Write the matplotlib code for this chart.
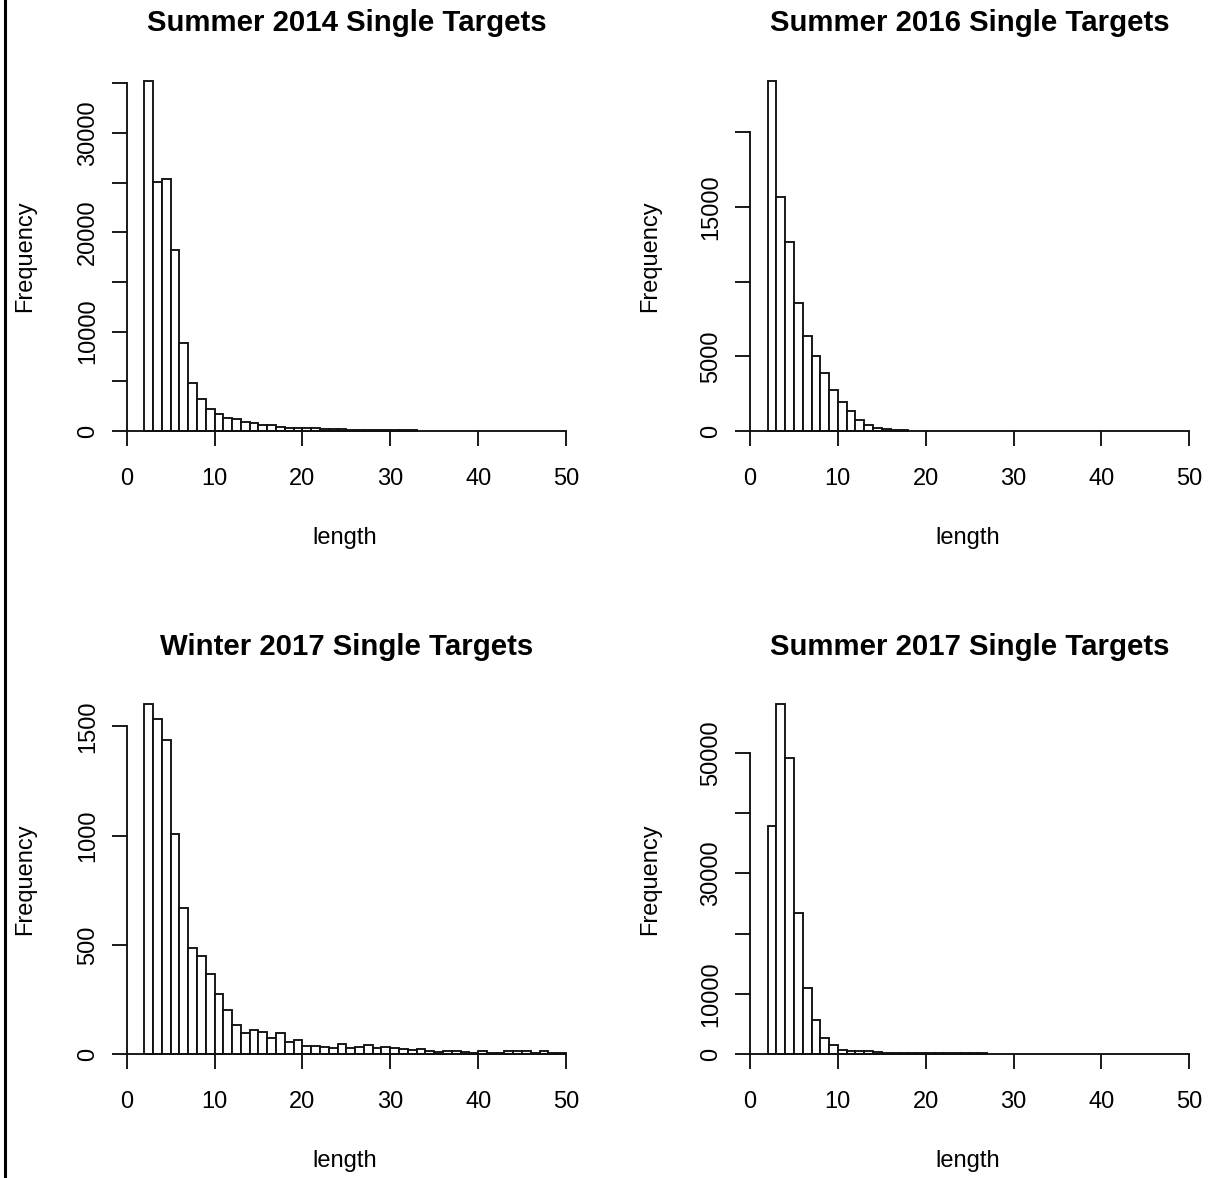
import matplotlib
matplotlib.use("Agg")
import matplotlib.pyplot as plt
from matplotlib.lines import Line2D

plt.rcParams['font.family'] = ['Liberation Sans', 'DejaVu Sans']

# ---------------- data ----------------
titles = ["Summer 2014 Single Targets", "Summer 2016 Single Targets",
          "Winter 2017 Single Targets", "Summer 2017 Single Targets"]

# counts per unit-width bin, first bin starts at length 2
s2014_counts = [35230, 25100, 25400, 18200, 8900, 4800, 3200, 2200, 1700, 1340,
                1170, 940, 770, 570, 560, 430, 330, 320, 310, 300,
                180, 170, 160, 150, 140, 130, 120, 110, 100, 90, 80]
s2016_counts = [23440, 15660, 12660, 8570, 6330, 4990, 3870, 2750, 1970, 1340,
                740, 430, 230, 120, 80, 60]
w2017_counts = [1603, 1535, 1436, 1009, 668, 485, 450, 366, 277, 200,
                135, 95, 109, 101, 72, 94, 55, 65, 37, 37,
                33, 27, 48, 27, 30, 40, 28, 30, 28, 23,
                17, 23, 15, 8, 15, 15, 8, 6, 15, 6,
                6, 13, 13, 13, 6, 15, 6, 6]
s2017_counts = [37900, 58140, 49100, 23500, 10900, 5650, 2660, 1500, 720, 550,
                440, 440, 250, 230, 210, 200, 190, 180, 170, 160,
                150, 140, 130, 120, 110]
first_bin = 2

x_ticks = [0, 10, 20, 30, 40, 50]
y_ticks = [[0, 5000, 10000, 15000, 20000, 25000, 30000, 35000],
           [0, 5000, 10000, 15000, 20000],
           [0, 500, 1000, 1500],
           [0, 10000, 20000, 30000, 40000, 50000]]
y_ticklabels = [["0", "", "10000", "", "20000", "", "30000", ""],
                ["0", "5000", "", "15000", ""],
                ["0", "500", "1000", "1500"],
                ["0", "10000", "", "30000", "", "50000"]]
all_counts = [s2014_counts, s2016_counts, w2017_counts, s2017_counts]

# ---------------- layout ----------------
W, H = 1208, 1178
fig = plt.figure(figsize=(W / 100, H / 100), dpi=100)

col_x0 = [126.7, 750.0]
col_w = 439.3
row_top = [81.0, 704.0]
row_bot = [431.0, 1054.0]

lw = 1.35
fs = 17
for i in range(4):
    r, c = divmod(i, 2)
    left = col_x0[c] / W
    bottom = 1 - row_bot[r] / H
    height = (row_bot[r] - row_top[r]) / H
    ax = fig.add_axes([left, bottom, col_w / W, height])
    counts = all_counts[i]
    edges = [first_bin + k for k in range(len(counts))]
    ax.bar(edges, counts, width=1, align='edge', facecolor='white',
           edgecolor='#111111', linewidth=lw, clip_on=False)
    ax.set_xlim(0, 50)
    ax.set_ylim(0, max(counts))
    for s in ['top', 'right']:
        ax.spines[s].set_visible(False)
    ax.spines['left'].set_bounds(y_ticks[i][0], y_ticks[i][-1])
    ax.spines['bottom'].set_bounds(0, 50)
    ax.spines['left'].set_linewidth(lw)
    ax.spines['bottom'].set_linewidth(lw)
    ax.spines['left'].set_color('#111111')
    ax.spines['bottom'].set_color('#111111')
    ax.spines['bottom'].set_zorder(3)
    ax.set_xticks(x_ticks)
    ax.set_xticklabels([str(t) for t in x_ticks])
    ax.set_yticks(y_ticks[i])
    ax.set_yticklabels(y_ticklabels[i])
    ax.tick_params(axis='both', direction='out', length=10.8, width=lw,
                   labelsize=fs, colors='#111111', labelcolor='black')
    ax.tick_params(axis='x', pad=16)
    ax.tick_params(axis='y', pad=9, labelrotation=90)
    for lab in ax.get_yticklabels():
        lab.set_va('center')
    ax.patch.set_alpha(0)

    cx = (col_x0[c] + col_w / 2) / W
    title_y = [23, 647][r]
    fig.text(cx, 1 - title_y / H, titles[i], ha='center', va='center',
             fontsize=21.2, fontweight='bold')
    fig.text(cx - 2 / W, 1 - [538, 1161][r] / H, "length", ha='center', va='center',
             fontsize=fs)
    fig.text([25, 650][c] / W, 1 - (row_top[r] + row_bot[r]) / 2 / H,
             "Frequency", ha='center', va='center', rotation=90, fontsize=fs)

# left frame line
fig.add_artist(Line2D([4.5 / W, 4.5 / W], [0, 1], color='black', linewidth=2.2))

fig.savefig("out.png", dpi=100, facecolor='white')
